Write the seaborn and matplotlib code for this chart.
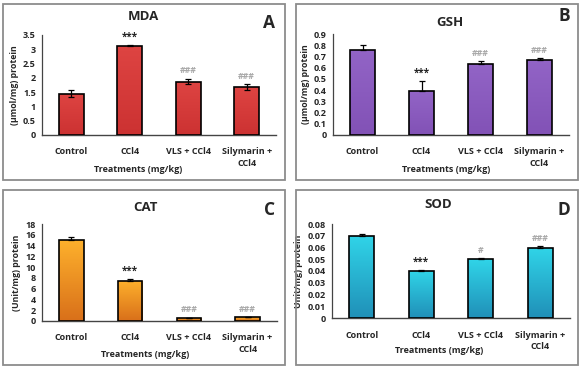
import numpy as np
import pandas as pd
import matplotlib
matplotlib.use("Agg")
import matplotlib.pyplot as plt
import seaborn as sns
from matplotlib.patches import Rectangle
from matplotlib.colors import LinearSegmentedColormap

# ---- data ----
categories = ["Control", "CCl4", "VLS + CCl4", "Silymarin +\nCCl4"]
mda = [1.45, 3.13, 1.87, 1.67]
mda_err = [0.11, 0.03, 0.10, 0.10]
gsh = [0.76, 0.39, 0.63, 0.67]
gsh_err = [0.045, 0.09, 0.025, 0.012]
cat = [15.0, 7.5, 0.6, 0.7]
cat_err = [0.6, 0.25, 0.0, 0.0]
sod = [0.070, 0.040, 0.050, 0.060]
sod_err = [0.0012, 0.0008, 0.0010, 0.0012]
mda_sig = ["", "***", "###", "###"]
gsh_sig = ["", "***", "###", "###"]
cat_sig = ["", "***", "###", "###"]
sod_sig = ["", "***", "#", "###"]

sns.set_theme(style="white")
plt.rcParams['font.family'] = ['Open Sans', 'DejaVu Sans']

W, H = 582, 369
fig = plt.figure(figsize=(W / 100, H / 100), dpi=100)

def fx(px):
    return px / W

def fy(py):
    return 1 - py / H

# panel borders
for (x0, y0, x1, y1) in [(3, 4, 285, 180), (296, 4, 578, 180), (3, 190, 285, 365), (296, 190, 578, 365)]:
    fig.patches.append(Rectangle((fx(x0), fy(y1)), fx(x1 - x0), (y1 - y0) / H,
                                 transform=fig.transFigure, fill=False,
                                 edgecolor="#8c8c8c", linewidth=1.3))

panels = [
    dict(vals=mda, err=mda_err, sig=mda_sig, both=True, title="MDA", letter="A",
         ylabel="(µmol/mg) protein", ylim=3.5, step=0.5,
         box=(42, 35, 276, 135), top="#de4442", bot="#cc3232",
         tpos=(143, 17), lpos=(269, 23), xl=0.41),
    dict(vals=gsh, err=gsh_err, sig=gsh_sig, both=False, title="GSH", letter="B",
         ylabel="(µmol/mg) protein", ylim=0.9, step=0.1,
         box=(333, 34, 569, 135), top="#9264c6", bot="#8252b6",
         tpos=(450, 23), lpos=(564, 16), xl=0.48),
    dict(vals=cat, err=cat_err, sig=cat_sig, both=False, title="CAT", letter="C",
         ylabel="(Unit/mg) protein", ylim=18, step=2,
         box=(42, 224, 277, 321), top="#fdb02c", bot="#d9701a",
         tpos=(145, 208), lpos=(270, 210), xl=0.44),
    dict(vals=sod, err=sod_err, sig=sod_sig, both=False, title="SOD", letter="D",
         ylabel="Unit/mg) protein", ylim=0.08, step=0.01,
         box=(332, 224, 570, 318), top="#30d4e8", bot="#2090b8",
         tpos=(438, 205), lpos=(564, 210), xl=0.45),
]

for p in panels:
    x0, y0, x1, y1 = p["box"]
    ax = fig.add_axes([fx(x0), fy(y1), fx(x1 - x0), (y1 - y0) / H])
    df = pd.DataFrame({"Treatment": categories, "Value": p["vals"]})
    sns.barplot(data=df, x="Treatment", y="Value", ax=ax, color=p["bot"],
                edgecolor="black", linewidth=1.2, width=0.42, errorbar=None, zorder=3)
    cmap = LinearSegmentedColormap.from_list("g", [p["bot"], p["top"]])
    for patch in ax.patches:
        bx, by = patch.get_x(), patch.get_y()
        bw, bh = patch.get_width(), patch.get_height()
        im = ax.imshow(np.linspace(0, 1, 64).reshape(-1, 1), cmap=cmap, aspect="auto",
                       extent=[bx, bx + bw, by, by + bh], origin="lower", zorder=3.5)
        im.set_clip_path(patch)
        patch.set_facecolor("none")
        patch.set_zorder(4)
    xs = np.arange(len(categories))
    err = np.array(p["err"])
    yerr = err if p["both"] else [np.zeros_like(err), err]
    ax.errorbar(xs, p["vals"], yerr=yerr, fmt="none", ecolor="black",
                elinewidth=0.9, capsize=2.2, capthick=0.9, zorder=5)
    for x, v, e, s in zip(xs, p["vals"], err, p["sig"]):
        if s:
            if s == "***":
                ax.annotate(s, (x, v + e), xytext=(0, 1.5), textcoords="offset points",
                            ha="center", va="bottom", fontsize=7, fontweight="bold", color="#222222")
            else:
                ax.annotate(s, (x, v + e), xytext=(0, 2.5), textcoords="offset points",
                            ha="center", va="bottom", fontsize=6.3, fontweight="bold", color="#a8a8a8")
    ax.set_xlim(-0.5, 3.5)
    ax.set_ylim(0, p["ylim"])
    ticks = np.arange(0, p["ylim"] + p["step"] / 2, p["step"])
    ax.set_yticks(ticks)
    ax.set_yticklabels(["{:g}".format(round(t, 3)) for t in ticks], fontsize=6.5, fontweight="bold")
    ax.set_xticks(xs)
    ax.set_xticklabels(categories, fontsize=6.5, fontweight="bold", linespacing=1.4)
    ax.tick_params(axis="x", length=0, pad=9)
    ax.tick_params(axis="y", length=2.5, width=0.8, direction="out", pad=2, color="#444444")
    for sp in ["top", "right"]:
        ax.spines[sp].set_visible(False)
    ax.spines["left"].set_color("#444444")
    ax.spines["bottom"].set_color("#444444")
    ax.spines["left"].set_linewidth(0.9)
    ax.spines["bottom"].set_linewidth(1.0)
    ax.set_facecolor("none")
    ax.grid(False)
    ax.set_xlabel("Treatments (mg/kg)", fontsize=6.5, fontweight="bold")
    ax.xaxis.set_label_coords(p["xl"], -0.30)
    ax.set_ylabel(p["ylabel"], fontsize=6.3, fontweight="bold", labelpad=3)
    fig.text(fx(p["tpos"][0]), fy(p["tpos"][1]), p["title"], ha="center", va="center",
             fontsize=9.5, fontweight="bold")
    fig.text(fx(p["lpos"][0]), fy(p["lpos"][1]), p["letter"], ha="center", va="center",
             fontsize=12.5, fontweight="bold")

fig.savefig("out.png", dpi=100, facecolor="white")
